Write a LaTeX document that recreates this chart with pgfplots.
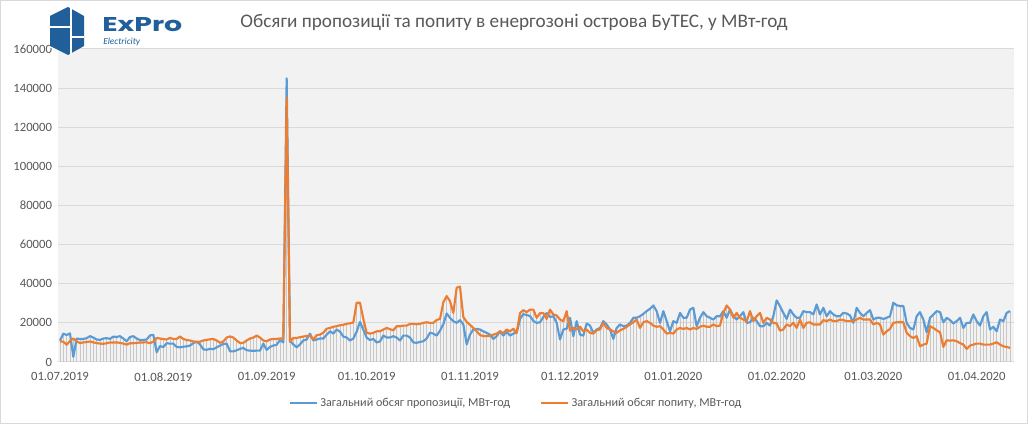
\documentclass[border=0pt]{standalone}
\usepackage{fontspec}
\setmainfont{Carlito}
\newfontfamily\logofont{Poppins}
\usepackage{graphicx}
\usepackage{pgfplots}
\usepackage{pgfplotstable}
\pgfplotsset{compat=1.18}
\definecolor{sblue}{HTML}{5B9BD5}
\definecolor{sorange}{HTML}{ED7D31}
\definecolor{txt}{HTML}{595959}
\definecolor{gridc}{HTML}{D9D9D9}
\definecolor{pbg}{HTML}{F2F2F2}
\definecolor{logoc}{HTML}{215F9A}

\pgfplotstableread{
d b o
0 10900 10500
1 14500 10400
2 13800 8800
3 14600 10800
4 2600 12000
5 12000 10500
6 11700 9700
7 11800 10000
8 12200 10200
9 13200 10500
10 12500 10000
11 11500 9700
12 11300 9400
13 12000 9300
14 12200 9600
15 11800 10000
16 13000 10000
17 12800 10000
18 13200 9800
19 12000 9400
20 10600 8900
21 12800 9600
22 13200 9600
23 12000 9700
24 11200 10000
25 11300 10000
26 11500 10100
27 13600 9600
28 13900 10400
29 5000 12300
30 8200 12000
31 7600 11700
32 9600 11500
33 9400 12300
34 9400 11800
35 7700 11800
36 7500 13000
37 7800 11800
38 8000 11200
39 8400 11000
40 9600 10500
41 10500 10200
42 9000 10400
43 6500 11000
44 6200 11300
45 6800 11600
46 6500 11800
47 7500 11000
48 8400 9800
49 9200 10500
50 9400 12500
51 5500 13100
52 5400 12500
53 6000 11000
54 6700 9700
55 7200 9800
56 6000 11000
57 5800 12000
58 5700 12500
59 5800 13500
60 5800 12500
61 9400 11000
62 6200 10600
63 7700 11500
64 8400 11800
65 8800 11800
66 11200 12000
67 10000 12000
68 145000 135000
69 10800 10300
70 9000 12300
71 7500 12300
72 9000 12700
73 11000 13000
74 11500 13300
75 14500 13500
76 11000 11500
77 11500 13700
78 12000 14000
79 12000 15000
80 14000 17000
81 15700 17400
82 14500 18000
83 16600 18300
84 15500 18800
85 13000 19000
86 12500 19500
87 11000 19800
88 12000 20200
89 15500 30300
90 20500 30300
91 16500 22000
92 12500 14900
93 11200 14500
94 11800 14900
95 10000 15700
96 10500 15700
97 13500 16600
98 12500 17400
99 12500 16800
100 13200 16200
101 12500 18300
102 11000 18300
103 13500 18600
104 13500 18600
105 12500 19500
106 10000 19500
107 9800 19300
108 10300 19500
109 10600 20000
110 12000 20300
111 15000 20000
112 14500 20000
113 13500 21500
114 16000 22000
115 19300 30500
116 24800 33700
117 22600 31100
118 20900 25100
119 20000 38000
120 21400 38500
121 19200 23000
122 9000 20500
123 14000 19000
124 16600 17400
125 16900 15700
126 16600 13800
127 15700 13200
128 14900 13200
129 14000 13200
130 11800 14000
131 13200 14500
132 15700 15700
133 13500 14800
134 15500 16600
135 13500 15700
136 14500 17000
137 15000 14900
138 22000 25000
139 24500 26500
140 24000 25500
141 23500 26800
142 21000 26800
143 20000 22600
144 20300 25000
145 23000 25000
146 25000 22000
147 23000 26800
148 23400 24300
149 20000 23800
150 11500 21700
151 16600 20900
152 17000 26000
153 22600 16000
154 13200 17400
155 20900 16600
156 14000 18000
157 13500 15700
158 19700 16600
159 18600 14900
160 14900 14500
161 16600 16200
162 17400 16600
163 20900 20000
164 19200 17400
165 16600 16600
166 11800 15700
167 17400 14900
168 19200 16200
169 18300 16900
170 18600 18000
171 20000 19200
172 22600 20300
173 22600 21700
174 23400 17400
175 24600 20300
176 26000 20900
177 27200 20000
178 28900 18600
179 26000 18000
180 20000 18300
181 26000 16600
182 20900 14500
183 15700 14900
184 20900 14500
185 20000 16600
186 25100 17400
187 22600 16900
188 22600 17400
189 26800 16600
190 27700 17400
191 18300 16900
192 22600 18000
193 25500 18600
194 23400 18000
195 22600 18000
196 21700 19200
197 23400 18300
198 23400 18600
199 26000 25100
200 22600 28900
201 26800 26800
202 23400 22600
203 21700 25100
204 23400 22600
205 25500 21700
206 20000 20900
207 20300 26000
208 22600 20900
209 20900 23400
210 18300 25100
211 18300 20000
212 20000 22600
213 18600 21700
214 23400 20000
215 31500 19700
216 28500 16000
217 25100 16600
218 22000 19200
219 26800 18300
220 24300 20000
221 22600 17400
222 22600 21700
223 26000 17400
224 25500 20000
225 25500 20300
226 24300 19200
227 29400 19200
228 24300 19200
229 27700 21400
230 23400 20900
231 26000 21700
232 24300 20900
233 23400 20900
234 23400 21700
235 25100 21400
236 24800 20900
237 23800 20900
238 20000 20900
239 27700 21700
240 25100 22600
241 23400 21700
242 25100 21700
243 26500 21700
244 21700 19200
245 22600 20000
246 22600 19200
247 22000 14000
248 22600 15700
249 23400 16900
250 30300 20000
251 29000 20300
252 28600 20300
253 28600 20300
254 20000 14900
255 17400 13200
256 16600 12300
257 23400 13200
258 25500 8000
259 21700 8900
260 15200 9400
261 22600 18300
262 24300 17400
263 26000 16200
264 25500 15200
265 20300 7700
266 22600 11100
267 21400 10900
268 19700 11100
269 20900 10600
270 22600 9700
271 17400 8900
272 20000 6700
273 20000 8400
274 24300 8900
275 20900 9400
276 18600 9400
277 23400 8900
278 25500 8900
279 16600 8900
280 18000 9400
281 15700 10100
282 21700 8900
283 20900 8000
284 25100 7700
285 26000 7200
}\data

\begin{document}
\begin{tikzpicture}[x=1pt,y=1pt]
\path[use as bounding box] (0,0) rectangle (771,318);
\fill[white] (0,0) rectangle (771,318);
\draw[gridc, line width=0.75pt] (0.375,0.375) rectangle (770.625,317.625);
\begin{axis}[
  at={(43.5pt,46.5pt)}, anchor=south west, scale only axis,
  width=717pt, height=234.75pt,
  xmin=-0.6, xmax=286.2, ymin=0, ymax=160000,
  axis background/.style={fill=pbg},
  axis line style={draw=none},
  major tick length=0pt,
  ymajorgrids, major grid style={gridc, line width=0.75pt},
  ytick={0,20000,40000,60000,80000,100000,120000,140000,160000},
  yticklabels={0,20000,40000,60000,80000,100000,120000,140000,160000},
  scaled y ticks=false,
  yticklabel style={font=\fontsize{9.5}{10}\selectfont, color=txt, xshift=-1pt},
  xtick={0,31,62,92,123,153,184,215,244,275},
  xticklabels={01.07.2019,01.08.2019,01.09.2019,01.10.2019,01.11.2019,01.12.2019,01.01.2020,01.02.2020,01.03.2020,01.04.2020},
  xticklabel style={font=\fontsize{9.5}{10}\selectfont, color=txt, yshift=-4.5pt},
  legend style={at={(0.4795,-0.131)}, anchor=center, draw=none, fill=none,
    legend columns=2, font=\fontsize{9.1}{10}\selectfont, text=txt,
    /tikz/every even column/.append style={column sep=20.5pt}},
  legend image code/.code={\draw[#1] (0pt,0pt) -- (20pt,0pt);},
]
\addplot[ycomb, draw=black!22, line width=0.45pt, forget plot]
  table[x=d, y expr={max(\thisrow{b},\thisrow{o})}] {\data};
\addplot[sblue, line width=1.6pt, line join=round] table[x=d, y=b] {\data};
\addlegendentry{Загальний обсяг пропозиції, МВт-год}
\addplot[sorange, line width=1.6pt, line join=round] table[x=d, y=o] {\data};
\addlegendentry{Загальний обсяг попиту, МВт-год}
\end{axis}
% title
\node[txt, font=\fontsize{14.4}{16}\selectfont] at (385.5,301.5) {Обсяги пропозиції та попиту в енергозоні острова БуТЕС, у МВт-год};
% logo
\begin{scope}[x=0.75pt, y=-0.75pt, shift={(0,318pt)}]
\fill[white] (50,3) rectangle (185,48.5);
\fill[logoc] (68,7) -- (84,16) -- (84,46) -- (68,55) -- (50,46) -- (50,16) -- cycle;
\draw[white, line width=1pt] (71,7) -- (71,55);
\draw[white, line width=1pt] (50,27) -- (71,27);
\draw[white, line width=1pt] (71,37) -- (84,37);
\node[anchor=west, inner sep=0pt, text=logoc] at (102,25) {\resizebox{60pt}{10.5pt}{\logofont\bfseries ExPro}};
\node[anchor=west, inner sep=0pt, text=logoc, font=\fontsize{7}{7}\selectfont\itshape] at (103,42) {Electricity};
\end{scope}
\end{tikzpicture}
\end{document}
